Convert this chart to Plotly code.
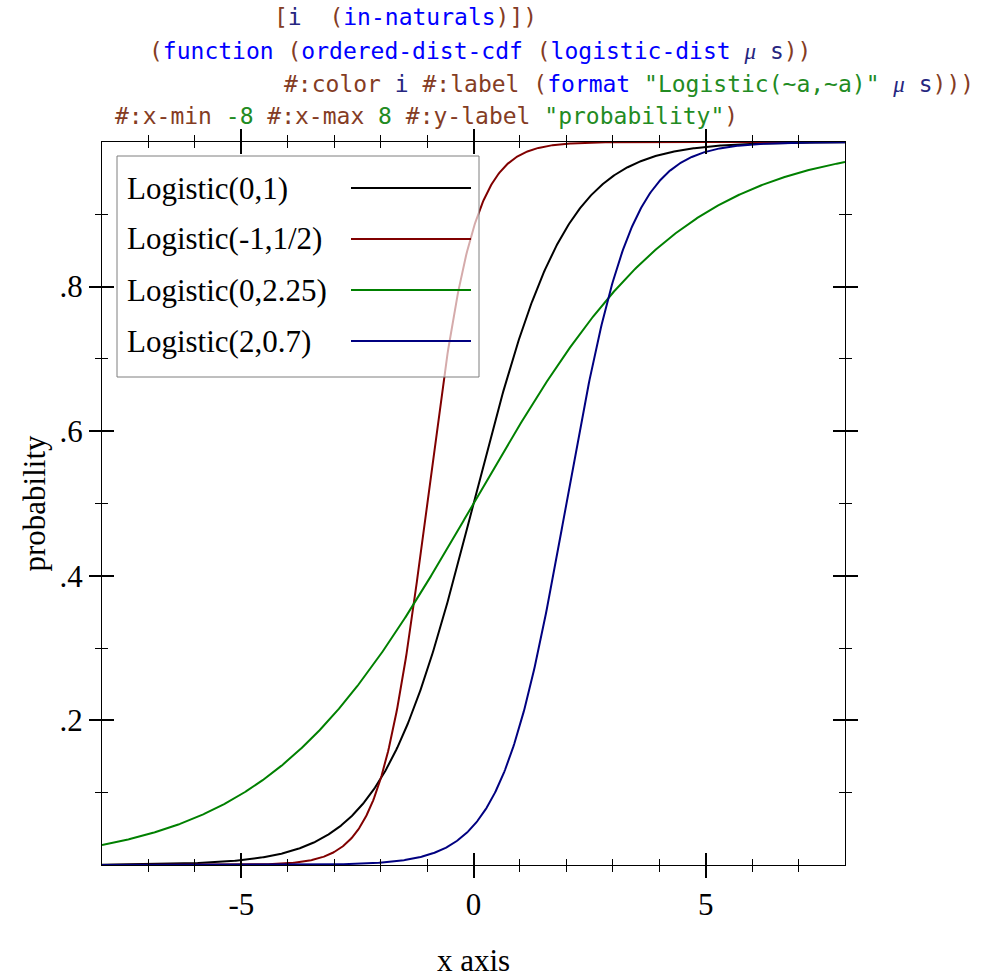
import numpy as np
import plotly.graph_objects as go

# ---- data ----
labels = ["Logistic(0,1)", "Logistic(-1,1/2)", "Logistic(0,2.25)", "Logistic(2,0.7)"]
mu_vals = [0.0, -1.0, 0.0, 2.0]
s_vals = [1.0, 0.5, 2.25, 0.7]
line_colors = ["#000000", "#800000", "#008000", "#000080"]
x_min, x_max = -8, 8
y_min, y_max = 0.0, 1.0
x_major = [-5, 0, 5]
x_major_text = ["-5", "0", "5"]
x_minor = [-7, -6, -4, -3, -2, -1, 1, 2, 3, 4, 6, 7]
y_major = [0.2, 0.4, 0.6, 0.8]
y_major_text = [".2", ".4", ".6", ".8"]
y_minor = [0.1, 0.3, 0.5, 0.7, 0.9]
x_title = "x axis"
y_title = "probability"

# ---- figure geometry (pixels) ----
W, H = 998, 978
ML, MR, MT, MB = 102, 153, 142, 113
PW, PH = W - ML - MR, H - MT - MB


def px(xp):
    return (xp - ML) / PW


def py(yp):
    return (H - MB - yp) / PH


SERIF = "Liberation Serif, Times New Roman, serif"
MONO = "DejaVu Sans Mono, monospace"

fig = go.Figure()
xs = np.linspace(x_min, x_max, 801)
for lab, m, s, c in zip(labels, mu_vals, s_vals, line_colors):
    ys = 1.0 / (1.0 + np.exp(-(xs - m) / s))  # logistic CDF
    fig.add_trace(go.Scatter(x=xs, y=ys, mode="lines", name=lab,
                             line=dict(color=c, width=2), showlegend=False,
                             hoverinfo="skip"))

common_x = dict(range=[x_min, x_max], tickvals=x_major, ticktext=x_major_text,
                showgrid=False, zeroline=False, ticklen=12, tickwidth=2,
                tickcolor="black", mirror="ticks", automargin=False)
common_y = dict(range=[y_min, y_max], tickvals=y_major, ticktext=y_major_text,
                showgrid=False, zeroline=False, ticklen=12, tickwidth=2,
                tickcolor="black", mirror="ticks", automargin=False)

fig.update_layout(
    width=W, height=H,
    margin=dict(l=ML, r=MR, t=MT, b=MB, pad=0, autoexpand=False),
    paper_bgcolor="white", plot_bgcolor="white",
    font=dict(family=SERIF, size=31, color="black"),
    xaxis=dict(**common_x, ticks="outside", showline=True, linecolor="black",
               linewidth=1,
               minor=dict(tickvals=x_minor, ticks="outside", ticklen=6,
                          tickwidth=1, tickcolor="black"),
               tickfont=dict(family=SERIF, size=31, color="black"),
               title=dict(text=x_title, standoff=36,
                          font=dict(family=SERIF, size=31, color="black"))),
    xaxis2=dict(**common_x, ticks="inside", overlaying="x", anchor="y",
                showline=False, showticklabels=False,
                minor=dict(tickvals=x_minor, ticks="inside", ticklen=6,
                           tickwidth=1, tickcolor="black")),
    yaxis=dict(**common_y, ticks="outside", showline=True, linecolor="black",
               linewidth=1,
               minor=dict(tickvals=y_minor, ticks="outside", ticklen=6,
                          tickwidth=1, tickcolor="black"),
               tickfont=dict(family=SERIF, size=31, color="black"),
               title=dict(text=y_title, standoff=4,
                          font=dict(family=SERIF, size=31, color="black"))),
    yaxis2=dict(**common_y, ticks="inside", overlaying="y", anchor="x",
                showline=False, showticklabels=False,
                minor=dict(tickvals=y_minor, ticks="inside", ticklen=6,
                           tickwidth=1, tickcolor="black")),
)
# invisible anchor trace so the overlay axes are drawn
fig.add_trace(go.Scatter(x=[x_min, x_max], y=[None, None], xaxis="x2",
                         yaxis="y2", mode="lines", showlegend=False,
                         hoverinfo="skip"))

# ---- legend box (drawn above the curves, as in the original) ----
shapes = [dict(type="rect", xref="paper", yref="paper",
               x0=px(117), x1=px(479), y0=py(377), y1=py(156),
               fillcolor="rgba(255,255,255,0.67)",
               line=dict(color="#7f7f7f", width=1), layer="above")]
annos = []
row_y = [188, 239, 290, 341]
for lab, c, ry in zip(labels, line_colors, row_y):
    shapes.append(dict(type="line", xref="paper", yref="paper",
                       x0=px(351), x1=px(471), y0=py(ry), y1=py(ry),
                       line=dict(color=c, width=2), layer="above"))
    annos.append(dict(text=lab, xref="paper", yref="paper", x=px(125),
                      y=py(ry), xanchor="left", yanchor="middle",
                      showarrow=False,
                      font=dict(family=SERIF, size=31, color="black")))

# ---- code snippet above the plot ----
PN = "#843C24"
ID = "#0000FF"
VR = "#262680"
VL = "#228B22"
NB = "\u00a0"


def sp(t, c):
    return '<span style="color:%s">%s</span>' % (c, t.replace(" ", NB))


MU = ('<span style="color:%s;font-family:Liberation Serif;font-style:italic">'
      '\u03bc</span>' % VR)

code_lines = [
    (272, 17, sp("[", PN) + sp("i", VR) + sp("  (", PN) + sp("in-naturals", ID)
     + sp(")])", PN)),
    (147, 51, sp("(", PN) + sp("function", ID) + sp(" (", PN)
     + sp("ordered-dist-cdf", ID) + sp(" (", PN) + sp("logistic-dist", ID)
     + sp(" ", PN) + MU + sp(" ", PN) + sp("s", VR) + sp("))", PN)),
    (282, 84, sp("#:color ", PN) + sp("i", VR) + sp(" #:label (", PN)
     + sp("format", ID) + sp(" ", PN) + sp('"Logistic(~a,~a)"', VL)
     + sp(" ", PN) + MU + sp(" ", PN) + sp("s", VR) + sp(")))", PN)),
    (113, 116, sp("#:x-min ", PN) + sp("-8", VL) + sp(" #:x-max ", PN)
     + sp("8", VL) + sp(" #:y-label ", PN) + sp('"probability"', VL)
     + sp(")", PN)),
]
for xl, yl, txt in code_lines:
    annos.append(dict(text=txt, xref="paper", yref="paper", x=px(xl),
                      y=py(yl), xanchor="left", yanchor="middle",
                      showarrow=False, font=dict(family=MONO, size=23)))

fig.update_layout(shapes=shapes, annotations=annos)

fig.write_html("out.html", config={"displayModeBar": False},
               post_script="document.body.style.margin='0';"
                           "document.body.style.overflow='hidden';")
